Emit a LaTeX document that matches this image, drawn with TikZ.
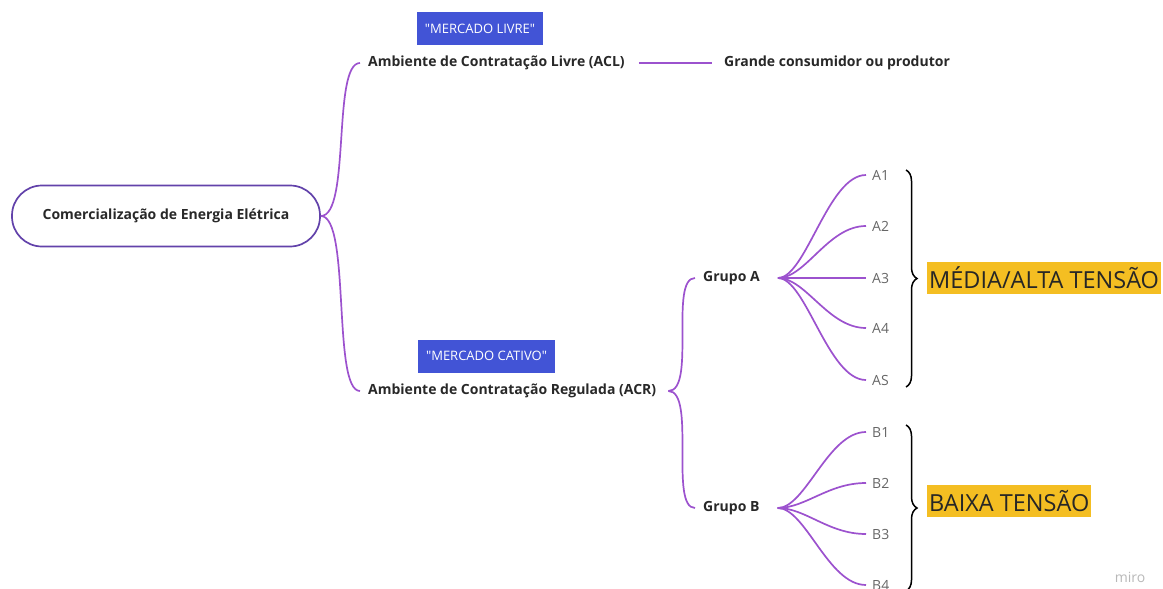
\documentclass[tikz,border=0pt]{standalone}
\usepackage{fontspec}
\setmainfont{Open Sans}
\newfontfamily\tagfont{Open Sans}[Ligatures=TeXOff]
\usetikzlibrary{calc,positioning,decorations.pathreplacing}
\definecolor{mmpurple}{RGB}{156,82,206}
\definecolor{mmborder}{RGB}{98,66,170}
\definecolor{mmblue}{RGB}{66,84,214}
\definecolor{mmyellow}{RGB}{244,190,34}
\definecolor{mmtext}{RGB}{40,40,40}

\begin{document}
\begin{tikzpicture}[x=1pt,y=-1pt,
    branch/.style={draw=mmpurple,line width=1.7pt},
    topic/.style={font=\fontsize{14}{16}\selectfont\bfseries,text=mmtext,inner sep=2pt},
    leaf/.style={font=\fontsize{14}{16}\selectfont,text=black!60,inner sep=2pt},
    tag/.style={fill=mmblue,text=white,font=\tagfont\fontsize{13}{15}\selectfont,minimum height=33pt,inner xsep=8pt},
    band/.style={fill=mmyellow,text=black!85,font=\fontsize{23.5}{26}\selectfont,minimum height=32pt,inner xsep=2pt,inner ysep=1pt},
    curly/.style={decorate,decoration={brace,amplitude=11pt},draw=black,line width=1.5pt}]
  \useasboundingbox (0,0) rectangle (1163,589);
  % root and first level
  \node[topic,draw=mmborder,line width=1.7pt,rounded corners=30pt,minimum width=308pt,minimum height=61pt] (root) at (166,216) {Comercialização de Energia Elétrica};
  \node[topic,anchor=west] (acl) at (366,63) {Ambiente de Contratação Livre (ACL)};
  \node[topic,anchor=west] (acr) at (366,391) {Ambiente de Contratação Regulada (ACR)};
  \node[tag] (livre) at (480,28.5) {"MERCADO LIVRE"};
  \node[tag] (cativo) at (486.5,356) {"MERCADO CATIVO"};
  \node[topic,anchor=west] (big) at (722,63) {Grande consumidor ou produtor};
  \draw[branch] (root.east) .. controls +(30,0) and +(-28,0) .. ([xshift=-6pt]acl.west);
  \draw[branch] (root.east) .. controls +(30,0) and +(-28,0) .. ([xshift=-6pt]acr.west);
  \draw[branch] ([xshift=12pt]acl.east) -- ([xshift=-10pt]big.west);
  % groups
  \node[topic,anchor=west] (grpA) at (701,278) {Grupo A};
  \node[topic,anchor=west] (grpB) at (701,508) {Grupo B};
  \draw[branch] ([xshift=10pt]acr.east) .. controls +(28,0) and +(-26,0) .. ([xshift=-6pt]grpA.west);
  \draw[branch] ([xshift=10pt]acr.east) .. controls +(28,0) and +(-26,0) .. ([xshift=-6pt]grpB.west);
  % leaves
  \foreach \lbl/\y [count=\i] in {A1/175,A2/226,A3/278,A4/328,AS/380} {
    \node[leaf,anchor=west] (a\i) at (870,\y) {\lbl};
    \draw[branch] ([xshift=16pt]grpA.east) .. controls +(28,0) and +(-38,0) .. ([xshift=-4pt]a\i.west);
  }
  \foreach \lbl/\y [count=\i] in {B1/432,B2/483,B3/534,B4/585} {
    \node[leaf,anchor=west] (b\i) at (870,\y) {\lbl};
    \draw[branch] ([xshift=16pt]grpB.east) .. controls +(28,0) and +(-38,0) .. ([xshift=-4pt]b\i.west);
  }
  % braces and bands
  \coordinate (topA) at (906,170);
  \coordinate (botA) at (906,387);
  \coordinate (topB) at (906,425);
  \coordinate (botB) at (906,591);
  \draw[curly] (topA) -- (botA);
  \draw[curly] (topB) -- (botB);
  \node[band,anchor=west] (midhigh) at (927,278) {MÉDIA/ALTA TENSÃO};
  \node[band,anchor=west] (low) at (927,501) {BAIXA TENSÃO};
  \node[text=black!28,font=\fontsize{14}{16}\selectfont] (miro) at (1130,577) {miro};
\end{tikzpicture}
\end{document}
